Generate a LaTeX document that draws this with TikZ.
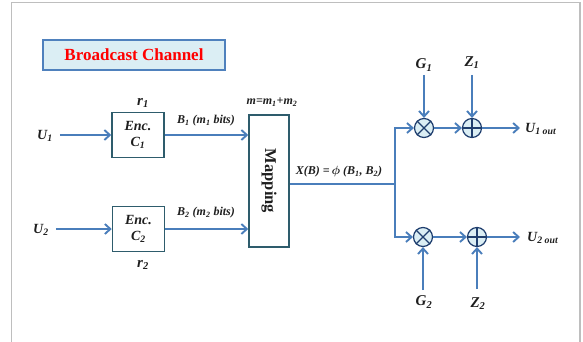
\documentclass[tikz,border=0pt]{standalone}
\usepackage{amsmath}
\usepackage{fontspec}
\setmainfont{Liberation Serif}
\usetikzlibrary{arrows.meta}
\definecolor{arrblue}{RGB}{74,126,187}
\definecolor{boxedge}{RGB}{46,92,108}
\definecolor{titlefill}{RGB}{219,238,244}
\definecolor{titleedge}{RGB}{79,129,189}
\definecolor{circedge}{RGB}{31,62,110}
\definecolor{framegray}{RGB}{190,190,190}
\definecolor{txt}{RGB}{30,30,30}
\newcommand\sbs[1]{\textsubscript{#1}}
\tikzset{
  biglbl/.style={font=\bfseries\itshape\fontsize{15}{16}\selectfont, inner sep=1pt, text=txt},
  lbl/.style={font=\bfseries\itshape\fontsize{14}{15}\selectfont, inner sep=1pt, text=txt},
  smalllbl/.style={font=\bfseries\itshape\fontsize{12}{13}\selectfont, inner sep=1pt, text=txt},
  encbox/.style={draw=boxedge, line width=1.5pt, fill=white, minimum width=52pt, minimum height=45pt, align=center, font=\bfseries\itshape\fontsize{14}{16}\selectfont, inner sep=1pt, text=txt},
  flow/.style={draw=arrblue, line width=1.9pt, -{Straight Barb[length=5.5pt,width=10pt,line width=1.9pt]}},
  flowline/.style={draw=arrblue, line width=1.9pt},
  opc/.style={circle, draw=circedge, line width=1.2pt, fill=titlefill, minimum size=19pt, inner sep=0pt},
}
\begin{document}
\begin{tikzpicture}[x=1pt,y=-1pt]
\useasboundingbox (0,0) rectangle (583,342);
\draw[framegray, line width=1pt] (11.5,342) -- (11.5,2.5) -- (580,2.5);
\draw[framegray, line width=2pt] (580,2.5) -- (580,342);
% title
\node[draw=titleedge, line width=1.4pt, fill=titlefill, minimum width=182pt, minimum height=30pt, inner sep=0pt,
      font=\bfseries\fontsize{17}{18}\selectfont, text=red] (title) at (134,55) {Broadcast Channel};
% encoders
\node[encbox] (enc1) at (138,135) {Enc.\\C\sbs{1}};
\node[encbox] (enc2) at (138.5,229) {Enc.\\C\sbs{2}};
\node[biglbl] (r1) at (143,103) {r\sbs{1}};
\node[biglbl] (r2) at (143,265) {r\sbs{2}};
\node[lbl] (u1) at (45,136) {U\sbs{1}};
\node[lbl] (u2) at (41,230) {U\sbs{2}};
% mapping
\node[draw=boxedge, line width=1.5pt, fill=white, minimum width=40pt, minimum height=132pt, inner sep=0pt] (map) at (269,181) {};
\node[rotate=-90, font=\bfseries\fontsize{16.5}{17}\selectfont, text=txt] (maptxt) at (map.center) {Mapping};
\node[smalllbl] (mm) at (272,102) {m=m\sbs{1}+m\sbs{2}};
\node[smalllbl] (b1) at (206,121) {B\sbs{1} (m\sbs{1} bits)};
\node[smalllbl] (b2) at (206,213) {B\sbs{2} (m\sbs{2} bits)};
\node[smalllbl] (xb) at (339,172) {X(B) =\,$\boldsymbol{\phi}$ (B\sbs{1}, B\sbs{2})};
% operators
\node[opc] (m1) at (424,128) {};
\node[opc] (a1) at (472,128) {};
\node[opc] (m2) at (423,237) {};
\node[opc] (a2) at (477,237) {};
\foreach \n in {m1,m2}{
  \draw[circedge, line width=1.2pt] (\n.45) -- (\n.225) (\n.135) -- (\n.315);
}
\foreach \n in {a1,a2}{
  \draw[circedge, line width=1.2pt] (\n.north) -- (\n.south) (\n.west) -- (\n.east);
}
\node[biglbl] (g1) at (424,65) {G\sbs{1}};
\node[biglbl] (z1) at (472,63) {Z\sbs{1}};
\node[biglbl] (g2) at (424,302) {G\sbs{2}};
\node[biglbl] (z2) at (478,304) {Z\sbs{2}};
\node[lbl, anchor=west] (o1) at (524,129) {U\sbs{1 out}};
\node[lbl, anchor=west] (o2) at (526,238) {U\sbs{2 out}};
\coordinate (split) at (395,184);
\coordinate (e1) at (520,128);
\coordinate (e2) at (520,237);
\coordinate (g1s) at (424,75);
\coordinate (z1s) at (472,75);
\coordinate (g2s) at (423,290);
\coordinate (z2s) at (477,289);
% connectors
\draw[flow] (enc1.west -| u1.east) ++(6,0) -- (enc1.west);
\draw[flow] (enc2.west -| u2.east) ++(6,0) -- (enc2.west);
\draw[flow] (enc1.east) -- (enc1.east -| map.west);
\draw[flow] (enc2.east) -- (enc2.east -| map.west);
\draw[flowline] (split -| map.east) -- (split);
\draw[flow] (split) |- (m1.west);
\draw[flow] (split) |- (m2.west);
\draw[flow] (m1) -- (a1);
\draw[flow] (m2) -- (a2);
\draw[flow] (a1) -- (e1);
\draw[flow] (a2) -- (e2);
\draw[flow] (g1s) -- (m1.north);
\draw[flow] (z1s) -- (a1.north);
\draw[flow] (g2s) -- (m2.south);
\draw[flow] (z2s) -- (a2.south);
\end{tikzpicture}
\end{document}
